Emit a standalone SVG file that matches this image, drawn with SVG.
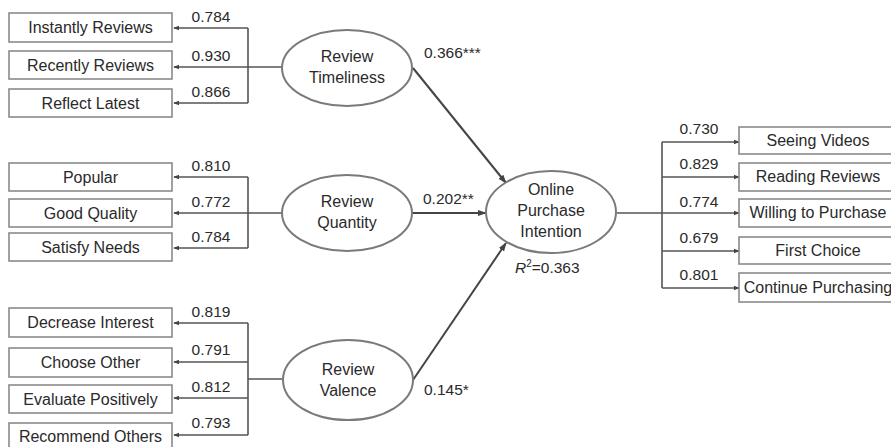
<svg xmlns="http://www.w3.org/2000/svg" width="891" height="447" viewBox="0 0 891 447">
<defs>
<marker id="ah" viewBox="0 0 8 8" refX="7" refY="4" markerWidth="6" markerHeight="6" orient="auto" markerUnits="userSpaceOnUse">
<path d="M0,1 L8,4 L0,7 Z" fill="#444"/>
</marker>
<marker id="ahb" viewBox="0 0 10 10" refX="9" refY="5" markerWidth="9" markerHeight="9" orient="auto" markerUnits="userSpaceOnUse">
<path d="M0,1.5 L10,5 L0,8.5 Z" fill="#444"/>
</marker>
<style>
.box{fill:#fff;stroke:#8a8a8a;stroke-width:1.6}
.ell{fill:#fff;stroke:#7a7a7a;stroke-width:2}
.t{font-family:"Liberation Sans",Arial,sans-serif;font-size:16px;fill:#2a2a2a;text-anchor:middle}
.n{font-family:"Liberation Sans",Arial,sans-serif;font-size:15.5px;fill:#2a2a2a;text-anchor:middle}
.s{font-family:"Liberation Sans",Arial,sans-serif;font-size:15.5px;fill:#2a2a2a}
.c{fill:none;stroke:#555;stroke-width:1.6}
.a{marker-end:url(#ah)}
.p{fill:none;stroke:#444;stroke-width:2;marker-end:url(#ahb)}
</style>
</defs>
<rect width="891" height="447" fill="#fff"/>

<g id="connectors">
<!-- Timeliness indicators -->
<path class="c" d="M282,67 H248 M248,28 V103"/>
<line class="c a" x1="248" y1="28" x2="174" y2="28"/>
<line class="c a" x1="248" y1="67" x2="174" y2="67"/>
<line class="c a" x1="248" y1="103" x2="174" y2="103"/>
<!-- Quantity indicators -->
<path class="c" d="M282,213 H248 M248,177 V248"/>
<line class="c a" x1="248" y1="177" x2="174" y2="177"/>
<line class="c a" x1="248" y1="213" x2="174" y2="213"/>
<line class="c a" x1="248" y1="248" x2="174" y2="248"/>
<!-- Valence indicators -->
<path class="c" d="M283,379 H248 M248,323 V435"/>
<line class="c a" x1="248" y1="323" x2="174" y2="323"/>
<line class="c a" x1="248" y1="362" x2="174" y2="362"/>
<line class="c a" x1="248" y1="398" x2="174" y2="398"/>
<line class="c a" x1="248" y1="435" x2="174" y2="435"/>
<!-- Intention indicators -->
<path class="c" d="M617,213 H662 M662,142 V288"/>
<line class="c a" x1="662" y1="142" x2="739" y2="142"/>
<line class="c a" x1="662" y1="177" x2="739" y2="177"/>
<line class="c a" x1="662" y1="213" x2="739" y2="213"/>
<line class="c a" x1="662" y1="251" x2="739" y2="251"/>
<line class="c a" x1="662" y1="288" x2="739" y2="288"/>
<!-- structural paths -->
<line class="p" x1="413" y1="68" x2="506" y2="183"/>
<line class="p" x1="412" y1="213" x2="486" y2="213"/>
<line class="p" x1="413" y1="380" x2="506" y2="243"/>
</g>

<g id="loadings" >
<text class="n" x="211" y="22">0.784</text>
<text class="n" x="211" y="61">0.930</text>
<text class="n" x="211" y="97">0.866</text>
<text class="n" x="211" y="171">0.810</text>
<text class="n" x="211" y="207">0.772</text>
<text class="n" x="211" y="242">0.784</text>
<text class="n" x="211" y="317">0.819</text>
<text class="n" x="211" y="355">0.791</text>
<text class="n" x="211" y="392">0.812</text>
<text class="n" x="211" y="428">0.793</text>
<text class="n" x="699" y="134">0.730</text>
<text class="n" x="699" y="169">0.829</text>
<text class="n" x="699" y="207">0.774</text>
<text class="n" x="699" y="243">0.679</text>
<text class="n" x="699" y="280">0.801</text>
<text class="s" x="424" y="58">0.366***</text>
<text class="s" x="423" y="204">0.202**</text>
<text class="s" x="424" y="395">0.145*</text>
</g>

<g id="instantly"><rect class="box" x="9" y="13" width="163" height="29"/><text class="t" x="90.5" y="33">Instantly Reviews</text></g>
<g id="recently"><rect class="box" x="9" y="51" width="163" height="28"/><text class="t" x="90.5" y="71">Recently Reviews</text></g>
<g id="reflect"><rect class="box" x="9" y="89" width="163" height="28"/><text class="t" x="90.5" y="109">Reflect Latest</text></g>

<g id="popular"><rect class="box" x="9" y="163" width="163" height="28"/><text class="t" x="90.5" y="183">Popular</text></g>
<g id="goodquality"><rect class="box" x="9" y="199" width="163" height="28"/><text class="t" x="90.5" y="219">Good Quality</text></g>
<g id="satisfy"><rect class="box" x="9" y="233" width="163" height="28"/><text class="t" x="90.5" y="253">Satisfy Needs</text></g>

<g id="decrease"><rect class="box" x="9" y="308" width="163" height="29"/><text class="t" x="90.5" y="328">Decrease Interest</text></g>
<g id="choose"><rect class="box" x="9" y="348" width="163" height="29"/><text class="t" x="90.5" y="368">Choose Other</text></g>
<g id="evaluate"><rect class="box" x="9" y="385" width="163" height="28"/><text class="t" x="90.5" y="405">Evaluate Positively</text></g>
<g id="recommend"><rect class="box" x="9" y="423" width="163" height="30"/><text class="t" x="90.5" y="442">Recommend Others</text></g>

<g id="seeing"><rect class="box" x="739" y="127" width="160" height="27"/><text class="t" x="818" y="146">Seeing Videos</text></g>
<g id="reading"><rect class="box" x="739" y="163" width="160" height="28"/><text class="t" x="818" y="182">Reading Reviews</text></g>
<g id="willing"><rect class="box" x="739" y="199" width="160" height="28"/><text class="t" x="818" y="218">Willing to Purchase</text></g>
<g id="firstchoice"><rect class="box" x="739" y="237" width="160" height="27"/><text class="t" x="818" y="256">First Choice</text></g>
<g id="continue"><rect class="box" x="739" y="273" width="160" height="29"/><text class="t" x="818" y="293">Continue Purchasing</text></g>

<g id="timeliness"><ellipse class="ell" cx="347" cy="68" rx="65" ry="38"/><text class="t" x="347" y="62">Review</text><text class="t" x="347" y="83">Timeliness</text></g>
<g id="quantity"><ellipse class="ell" cx="347" cy="213" rx="65" ry="38"/><text class="t" x="347" y="207">Review</text><text class="t" x="347" y="228">Quantity</text></g>
<g id="valence"><ellipse class="ell" cx="348" cy="380" rx="65" ry="40"/><text class="t" x="348" y="375">Review</text><text class="t" x="348" y="396">Valence</text></g>
<g id="intention"><ellipse class="ell" cx="551" cy="212" rx="65" ry="41"/><text class="t" x="551" y="195">Online</text><text class="t" x="551" y="216">Purchase</text><text class="t" x="551" y="237">Intention</text></g>
<g id="r2"><text class="s" x="515" y="273"><tspan font-style="italic">R</tspan><tspan font-size="10" dy="-6">2</tspan><tspan dy="6">=0.363</tspan></text></g>
</svg>
